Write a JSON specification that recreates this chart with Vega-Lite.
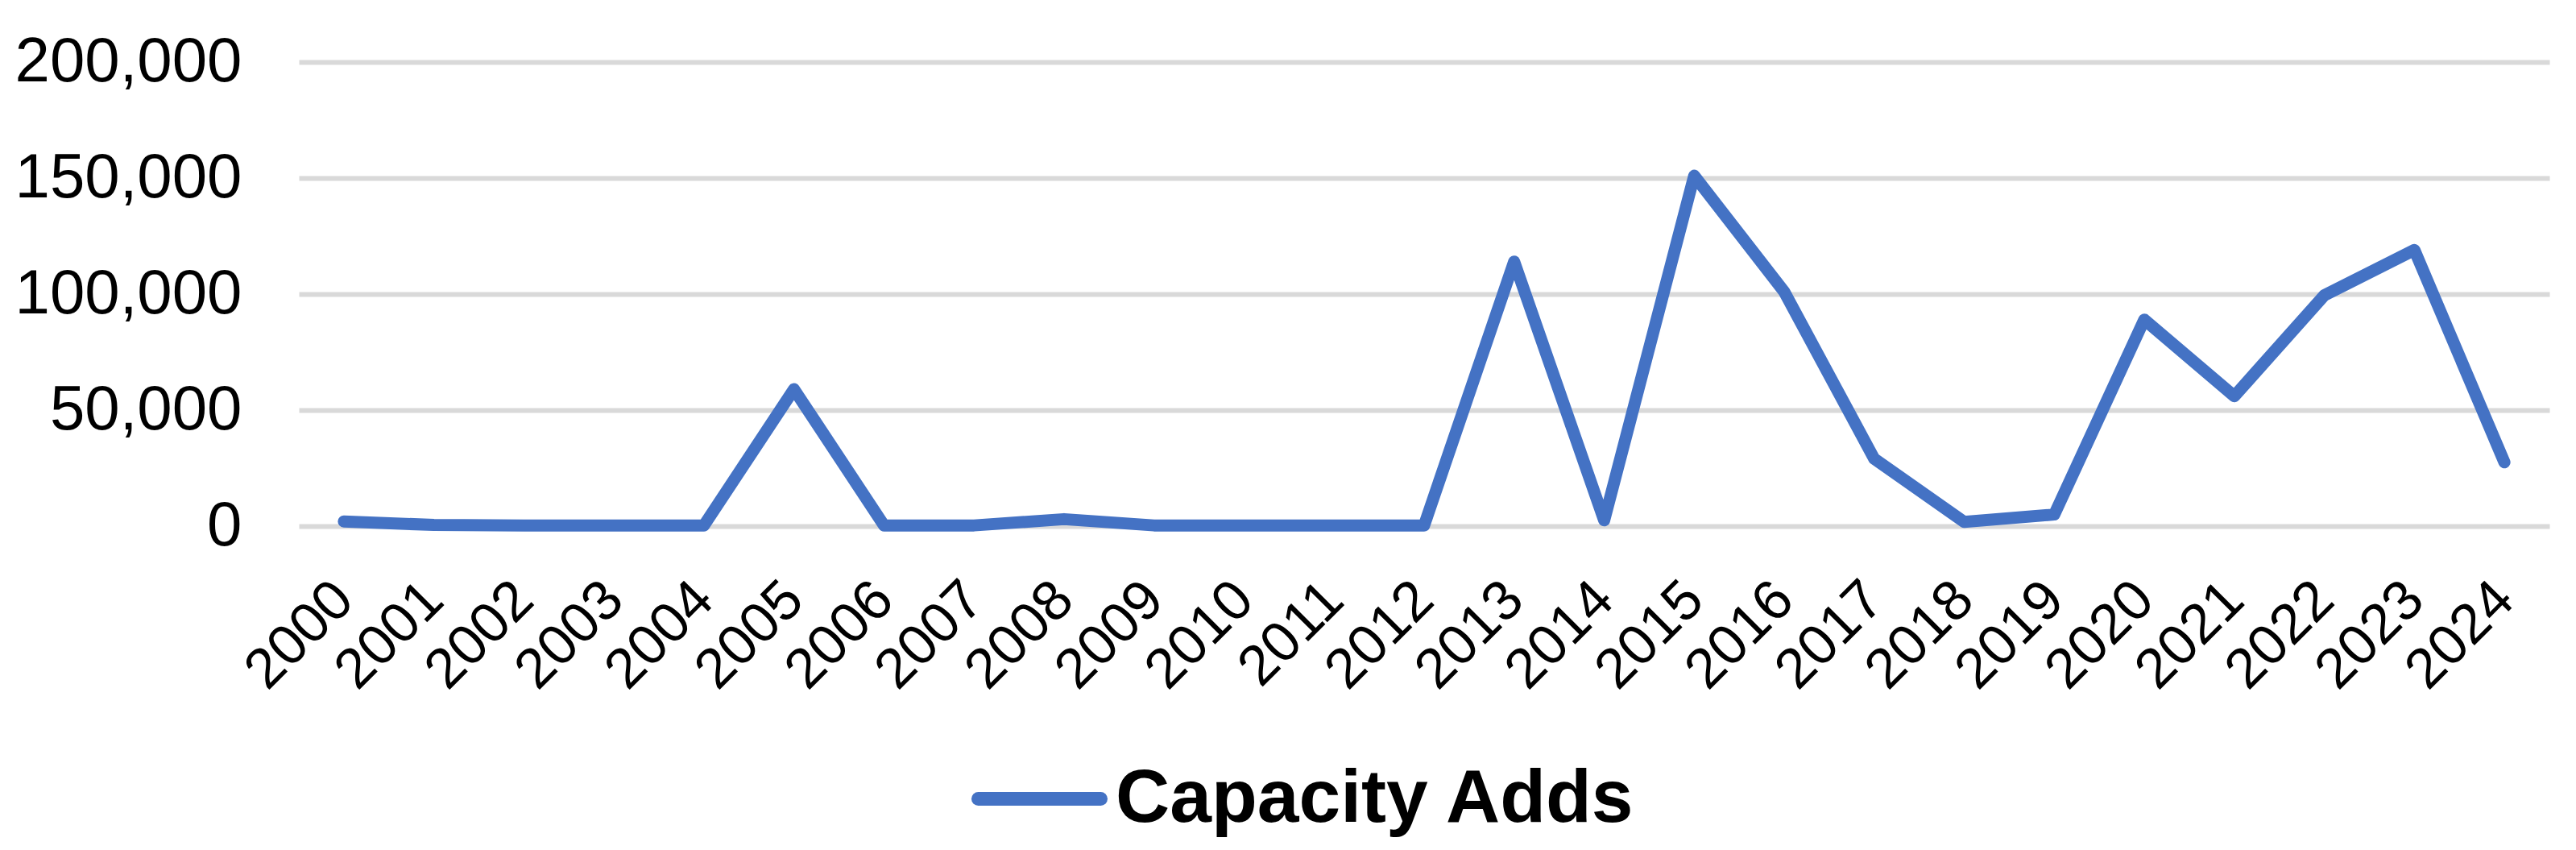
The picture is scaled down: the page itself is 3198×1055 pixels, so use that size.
{
  "$schema": "https://vega.github.io/schema/vega-lite/v6.json",
  "autosize": {"type": "none"},
  "padding": {"left": 371, "top": 77, "right": 33, "bottom": 402},
  "width": 2794,
  "height": 576,
  "background": "white",
  "config": {
    "view": {"stroke": null},
    "font": "Liberation Sans"
  },
  "data": {
    "values": [
      {"Year": "2000", "Series": "Capacity Adds", "Value": 2000},
      {"Year": "2001", "Series": "Capacity Adds", "Value": 500},
      {"Year": "2002", "Series": "Capacity Adds", "Value": 300},
      {"Year": "2003", "Series": "Capacity Adds", "Value": 300},
      {"Year": "2004", "Series": "Capacity Adds", "Value": 300},
      {"Year": "2005", "Series": "Capacity Adds", "Value": 59000},
      {"Year": "2006", "Series": "Capacity Adds", "Value": 300},
      {"Year": "2007", "Series": "Capacity Adds", "Value": 300},
      {"Year": "2008", "Series": "Capacity Adds", "Value": 3000},
      {"Year": "2009", "Series": "Capacity Adds", "Value": 300},
      {"Year": "2010", "Series": "Capacity Adds", "Value": 300},
      {"Year": "2011", "Series": "Capacity Adds", "Value": 300},
      {"Year": "2012", "Series": "Capacity Adds", "Value": 300},
      {"Year": "2013", "Series": "Capacity Adds", "Value": 114000},
      {"Year": "2014", "Series": "Capacity Adds", "Value": 2500},
      {"Year": "2015", "Series": "Capacity Adds", "Value": 151000},
      {"Year": "2016", "Series": "Capacity Adds", "Value": 101000},
      {"Year": "2017", "Series": "Capacity Adds", "Value": 29000},
      {"Year": "2018", "Series": "Capacity Adds", "Value": 1800},
      {"Year": "2019", "Series": "Capacity Adds", "Value": 5000},
      {"Year": "2020", "Series": "Capacity Adds", "Value": 89000},
      {"Year": "2021", "Series": "Capacity Adds", "Value": 56000},
      {"Year": "2022", "Series": "Capacity Adds", "Value": 99500},
      {"Year": "2023", "Series": "Capacity Adds", "Value": 119000},
      {"Year": "2024", "Series": "Capacity Adds", "Value": 27500}
    ]
  },
  "mark": {"type": "line", "strokeWidth": 15, "strokeCap": "round", "strokeJoin": "round"},
  "encoding": {
    "x": {
      "field": "Year",
      "type": "ordinal",
      "scale": {"type": "point", "padding": 0.5},
      "axis": {
        "title": null,
        "domain": false,
        "ticks": false,
        "grid": false,
        "labelAngle": -45,
        "labelAlign": "right",
        "labelBaseline": "middle",
        "labelFont": "Liberation Sans",
        "labelFontSize": 70,
        "labelColor": "#000000",
        "labelPadding": 80,
        "labelOverlap": false,
        "labelLimit": 500
      }
    },
    "y": {
      "field": "Value",
      "type": "quantitative",
      "scale": {"domain": [0, 200000], "nice": false},
      "axis": {
        "title": null,
        "domain": false,
        "ticks": false,
        "values": [0, 50000, 100000, 150000, 200000],
        "format": ",d",
        "grid": true,
        "gridColor": "#D9D9D9",
        "gridWidth": 6,
        "labelFont": "Liberation Sans",
        "labelFontSize": 78,
        "labelColor": "#000000",
        "labelPadding": 71,
        "labelLimit": 500
      }
    },
    "color": {
      "field": "Series",
      "type": "nominal",
      "scale": {"range": ["#4472C4"]},
      "legend": {
        "title": null,
        "orient": "none",
        "legendX": 835,
        "legendY": 830,
        "direction": "horizontal",
        "symbolType": "stroke",
        "symbolSize": 23104,
        "symbolStrokeWidth": 17,
        "labelFont": "Liberation Sans",
        "labelFontSize": 93,
        "labelFontWeight": "bold",
        "labelColor": "#000000",
        "labelOffset": 10,
        "labelLimit": 1000,
        "encode": {"symbols": {"update": {"strokeCap": {"value": "round"}}}}
      }
    }
  }
}
